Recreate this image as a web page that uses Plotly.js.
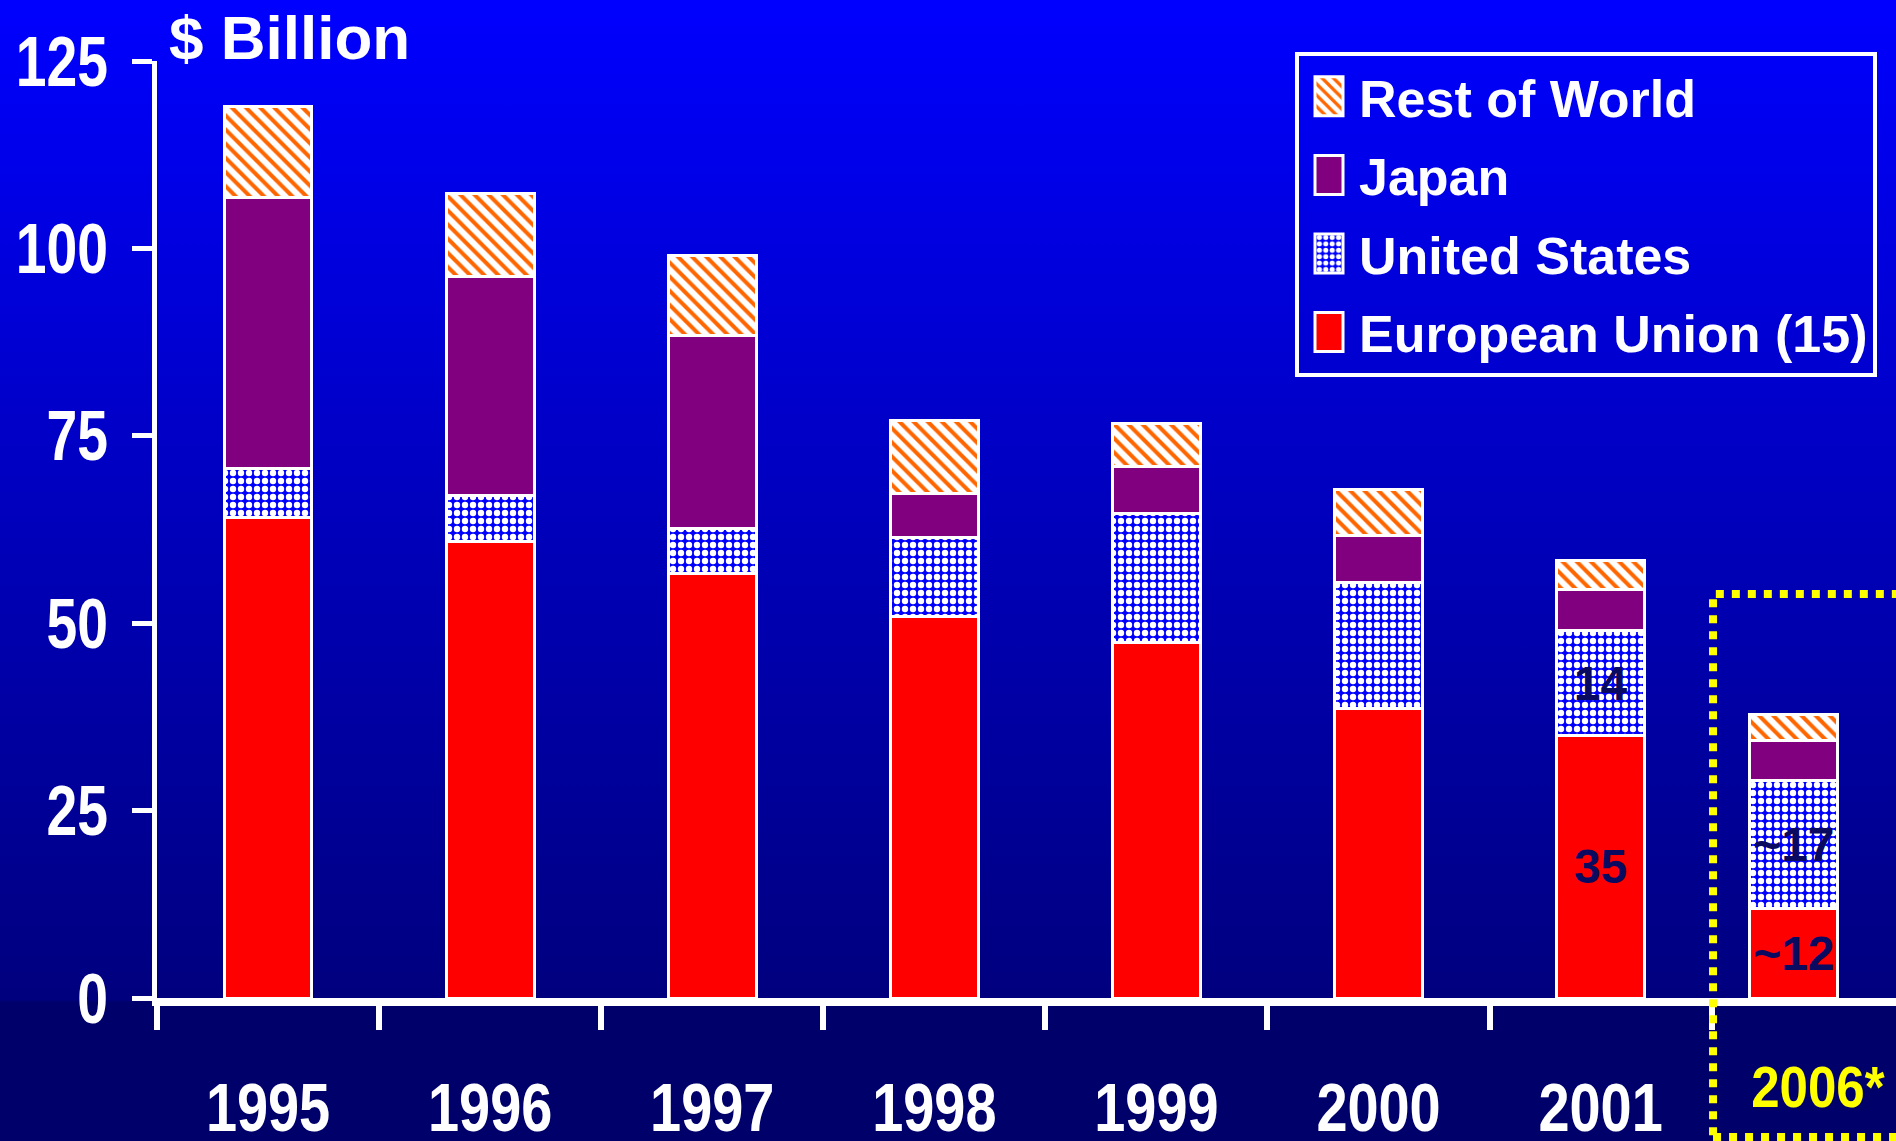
<!DOCTYPE html>
<html>
<head>
<meta charset="utf-8">
<script src="https://cdn.plot.ly/plotly-3.0.1.min.js"></script>
<style>
  html, body { margin: 0; padding: 0; }
  #chart {
    width: 1896px;
    height: 1141px;
    background: linear-gradient(to bottom, #0000FF 0px, #00007E 1000px, #00006A 1002px, #00006A 1141px);
  }
</style>
</head>
<body>
<div id="chart"></div>
<script>
// Production by region, $ billion
const years = ['1995', '1996', '1997', '1998', '1999', '2000', '2001', '2006'];
const euValues    = [64.1, 60.9, 56.6, 50.9, 47.4, 38.6, 35, 12];
const usValues    = [6.6, 6.1, 6.1, 10.5, 17.2, 16.8, 14, 17];
const japanValues = [36.1, 29.2, 25.7, 5.9, 6.3, 6.3, 5.5, 5.4];
const rowValues   = [12.1, 11.1, 10.6, 9.7, 5.7, 6.1, 3.8, 3.4];
const yTicks = [0, 25, 50, 75, 100, 125];

// Years whose segments carry a value label; forecast years are marked "~"
const labelledYears = ['2001', '2006'];
const forecastYears = ['2006'];

const font = 'Liberation Sans, Arial, sans-serif';
const barWidth = 0.395;
const forecastShift = 0.13;   // forecast bar sits a little to the left inside its frame

function segmentLabels(values) {
  return years.map((y, i) => {
    if (!labelledYears.includes(y)) return '';
    return (forecastYears.includes(y) ? '~' : '') + values[i];
  });
}

const barOffsets = years.map(y => -barWidth / 2 - (forecastYears.includes(y) ? forecastShift : 0));

const outline = { color: '#FFFFFF', width: 3 };
const labelFont = { family: font, size: 48, color: '#0A0A60', weight: 'bold' };

function series(name, values, rank, marker, labels) {
  return {
    type: 'bar',
    name: name,
    x: years,
    y: values,
    width: barWidth,
    offset: barOffsets,
    legendgroup: name,
    legendrank: rank,
    marker: Object.assign({ line: outline }, marker),
    text: labels || null,
    textposition: labels ? 'inside' : 'none',
    insidetextanchor: 'middle',
    textangle: 0,
    constraintext: 'none',
    textfont: labelFont,
    hoverinfo: 'skip'
  };
}

const data = [
  series('European Union (15)', euValues, 4, { color: '#FF0000' }, segmentLabels(euValues)),
  series('United States', usValues, 3, {
    color: '#0000FF',
    pattern: { shape: '.', fgcolor: '#FFFFFF', bgcolor: '#0000FF', size: 8, solidity: 0.5, fillmode: 'replace' }
  }, segmentLabels(usValues)),
  series('Japan', japanValues, 2, { color: '#800080' }),
  series('Rest of World', rowValues, 1, {
    color: '#FFFFFF',
    pattern: { shape: '\\', fgcolor: '#FF6600', bgcolor: '#FFFFFF', size: 10, solidity: 0.4, fillmode: 'replace' }
  })
];

const forecastIndex = years.indexOf(forecastYears[0]);

const layout = {
  width: 1896,
  height: 1141,
  margin: { l: 157, r: 0, t: 61, b: 143, pad: 0 },
  paper_bgcolor: 'rgba(0,0,0,0)',
  plot_bgcolor: 'rgba(0,0,0,0)',
  barmode: 'stack',
  showlegend: true,
  legend: {
    x: 0.6544, y: 1.0096, xanchor: 'left', yanchor: 'top',
    bgcolor: 'rgba(0,0,0,0)',
    bordercolor: '#FFFFFF', borderwidth: 4,
    font: { family: font, size: 52, color: '#FFFFFF', weight: 'bold' },
    traceorder: 'grouped',
    tracegroupgap: 8,
    itemwidth: 50
  },
  xaxis: {
    type: 'category',
    categoryorder: 'array',
    categoryarray: years,
    range: [-0.5, 7.33],
    tickvals: years.slice(0, forecastIndex),
    ticktext: years.slice(0, forecastIndex),
    tickson: 'boundaries',
    ticks: 'outside', ticklen: 24, tickwidth: 6, tickcolor: '#FFFFFF',
    showline: true, linewidth: 8, linecolor: '#FFFFFF',
    showgrid: false, zeroline: false,
    tickfont: { family: font, size: 69, color: '#FFFFFF', weight: 'bold' },
    ticklabelstandoff: 42,
    fixedrange: true
  },
  yaxis: {
    range: [0, 125],
    tickvals: yTicks,
    ticktext: yTicks.map(String),
    ticks: 'outside', ticklen: 20, tickwidth: 5, tickcolor: '#FFFFFF',
    showline: true, linewidth: 5, linecolor: '#FFFFFF',
    showgrid: false, zeroline: false,
    tickfont: { family: font, size: 70, color: '#FFFFFF', weight: 'bold' },
    ticklabelstandoff: 10,
    fixedrange: true
  },
  annotations: [
    {
      text: '$ Billion',
      xref: 'paper', yref: 'paper', x: 0.0058, y: 1.0256,
      xanchor: 'left', yanchor: 'middle', showarrow: false,
      font: { family: font, size: 62, color: '#FFFFFF', weight: 'bold' }
    },
    {
      text: years[forecastIndex] + '*',
      xref: 'x', yref: 'paper', x: forecastIndex, y: -0.094,
      xanchor: 'center', yanchor: 'middle', xshift: -5, showarrow: false,
      font: { family: font, size: 58, color: '#FFFF00', weight: 'bold' }
    }
  ],
  shapes: [
    {
      type: 'rect', xref: 'paper', yref: 'paper',
      x0: 0.8948, x1: 1.05, y0: -0.1483, y1: 0.4312,
      line: { color: '#FFFF00', width: 8, dash: '8px,8px' },
      fillcolor: 'rgba(0,0,0,0)',
      layer: 'above'
    }
  ]
};

// Condense a text element horizontally around its anchor point
function condense(t, factor) {
  const b = t.getBBox();
  const anchor = t.getAttribute('text-anchor') || 'start';
  const cx = anchor === 'end' ? b.x + b.width : anchor === 'middle' ? b.x + b.width / 2 : b.x;
  const old = t.getAttribute('transform') || '';
  t.setAttribute('transform', old + ' translate(' + cx + ',0) scale(' + factor + ',1) translate(' + (-cx) + ',0)');
}

Plotly.newPlot('chart', data, layout, { displayModeBar: false, staticPlot: true }).then(gd => {
  // tall legend swatches (reshaped, so the fill patterns keep their scale)
  gd.querySelectorAll('.legend .legendpoints path').forEach(p => {
    p.setAttribute('d', 'M14,19.5H-14V-19.5H14Z');
  });
  // narrow bold axis lettering
  gd.querySelectorAll('.xtick text').forEach(t => condense(t, 0.81));
  gd.querySelectorAll('.ytick text').forEach(t => condense(t, 0.79));
  gd.querySelectorAll('.annotation[data-index="1"] text').forEach(t => condense(t, 0.88));
});
</script>
</body>
</html>
